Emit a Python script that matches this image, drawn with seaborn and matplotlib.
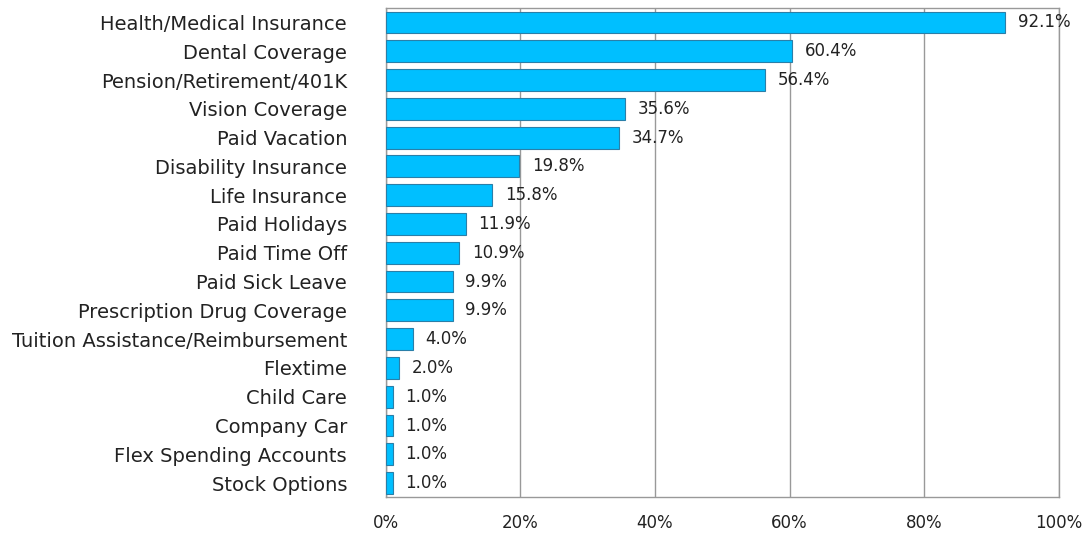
import matplotlib
matplotlib.use("Agg")
import matplotlib.pyplot as plt
import seaborn as sns
import pandas as pd

categories = [
    "Health/Medical Insurance", "Dental Coverage", "Pension/Retirement/401K",
    "Vision Coverage", "Paid Vacation", "Disability Insurance", "Life Insurance",
    "Paid Holidays", "Paid Time Off", "Paid Sick Leave", "Prescription Drug Coverage",
    "Tuition Assistance/Reimbursement", "Flextime", "Child Care", "Company Car",
    "Flex Spending Accounts", "Stock Options",
]
values = [92.1, 60.4, 56.4, 35.6, 34.7, 19.8, 15.8, 11.9, 10.9, 9.9, 9.9,
          4.0, 2.0, 1.0, 1.0, 1.0, 1.0]
xticks = [0, 20, 40, 60, 80, 100]
xticklabels = ["0%", "20%", "40%", "60%", "80%", "100%"]

df = pd.DataFrame({"cat": categories, "val": values})

sns.set_theme(style="white")
plt.rcParams['font.family'] = ['DejaVu Sans']

fig = plt.figure(figsize=(10.86, 5.37), dpi=100)
ax = fig.add_axes([0.3554, 0.0736, 0.9747 - 0.3554, 0.985 - 0.0736])

sns.barplot(data=df, y="cat", x="val", orient="h", ax=ax, color="#00BFFF",
            edgecolor="#2A7FA8", linewidth=0.8, width=0.76, saturation=1, zorder=3)

ax.set_xlim(0, 100)
ax.set_ylim(len(categories) - 0.5, -0.5)
ax.set_xticks(xticks)
ax.set_xticklabels(xticklabels, fontsize=12, color="#222222")
ax.tick_params(axis="x", pad=12, length=0)
ax.tick_params(axis="y", pad=28, length=0, labelsize=14, labelcolor="#222222")
ax.set_xlabel("")
ax.set_ylabel("")
ax.xaxis.grid(True, color="#999999", linewidth=1, zorder=0)
ax.set_axisbelow(True)
for s in ax.spines.values():
    s.set_color("#999999")
    s.set_linewidth(1)

for i, v in enumerate(values):
    ax.annotate(f"{v:.1f}%", xy=(v, i), xytext=(9, 0), textcoords="offset points",
                va="center", ha="left", fontsize=12, color="#222222", zorder=5)

fig.savefig("out.png", dpi=100)
